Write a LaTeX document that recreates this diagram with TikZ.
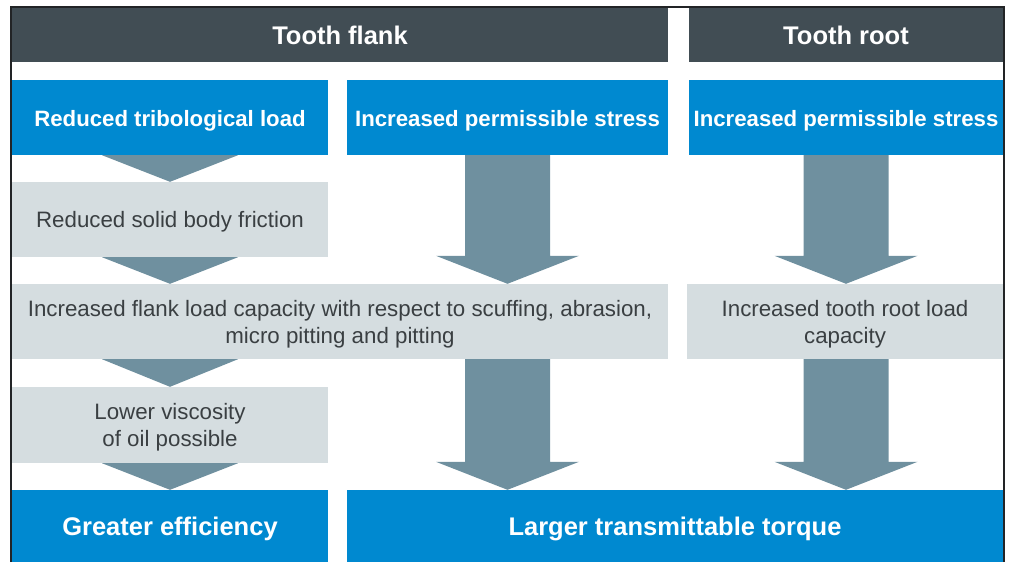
\documentclass[tikz,border=0pt]{standalone}
\usepackage{fontspec}
\setmainfont{Liberation Sans}
\usetikzlibrary{calc}
\definecolor{headgray}{HTML}{414D54}
\definecolor{boxblue}{HTML}{0089D0}
\definecolor{boxgray}{HTML}{D5DDE0}
\definecolor{arrowgray}{HTML}{6F909F}
\definecolor{textgray}{HTML}{3A3F42}
\definecolor{framegray}{HTML}{222426}
%% block arrow: column node, start node, end node
\newcommand{\bigarrow}[3]{
  \coordinate (top) at (#1.south |- #2.south);
  \coordinate (tip) at (#1.south |- #3.north);
  \fill[tri] ($(top)+(-42.5,0)$) -- ($(tip)+(-42.5,-28)$) -- ++(-29,0) -- (tip)
    -- ($(tip)+(71.5,-28)$) -- ++(-29,0) -- ($(top)+(42.5,0)$) -- cycle;
}
\begin{document}
\begin{tikzpicture}[x=1pt,y=-1pt]
      \tikzset{header/.style={fill=headgray, text=white, inner sep=0pt, minimum height=54pt, font=\bfseries\fontsize{25.5}{30}\selectfont},
        bluebox/.style={fill=boxblue, text=white, inner sep=0pt, minimum height=75pt, text height=17pt, text depth=0pt, font=\bfseries\fontsize{22.2}{27}\selectfont},
        bigblue/.style={bluebox, minimum height=72pt, text height=18pt, font=\bfseries\fontsize{25.5}{30}\selectfont},
        graybox/.style={fill=boxgray, text=textgray, inner sep=0pt, minimum height=75pt, text depth=-4pt, align=center, font=\fontsize{22.3}{27}\selectfont},
        tri/.style={fill=arrowgray}}
      \useasboundingbox (0,0) rectangle (1011,562);
%% Frame
      \draw[framegray, line width=2pt] (11,562) -- (11,7) -- (1004,7) -- (1004,562);
%% Headers
      \node[header, minimum width=656pt] (hflank) at (340,35) {Tooth flank};
      \node[header, minimum width=314pt] (hroot) at (846,35) {Tooth root};
%% Top row
      \node[bluebox, minimum width=316pt] (tribo) at (170,117.5) {Reduced tribological load};
      \node[bluebox, minimum width=321pt] (stressf) at (507.5,117.5) {Increased permissible stress};
      \node[bluebox, minimum width=314pt] (stressr) at (846,117.5) {Increased permissible stress};
%% Middle
      \node[graybox, minimum width=316pt] (friction) at (170,219.5) {Reduced solid body friction};
      \node[graybox, minimum width=656pt] (flankcap) at (340,321.5) {Increased flank load capacity with respect to scuffing, abrasion,\\ micro pitting and pitting};
      \node[graybox, minimum width=316pt] (rootcap) at (845,321.5) {Increased tooth root load\\ capacity};
      \node[graybox, minimum width=316pt, minimum height=76pt] (visc) at (170,425) {Lower viscosity\\ of oil possible};
%% Bottom row
      \node[bigblue, minimum width=316pt] (eff) at (170,526) {Greater efficiency};
      \node[bigblue, minimum width=656pt] (torque) at (675,526) {Larger transmittable torque};
%% Small arrows
      \fill[tri] ($(tribo.south)+(-68,0)$) -- ($(tribo.south)+(68,0)$) -- (friction.north) -- cycle;
      \fill[tri] ($(friction.south)+(-68,0)$) -- ($(friction.south)+(68,0)$) -- (friction.south |- flankcap.north) -- cycle;
      \fill[tri] ($(visc.north |- flankcap.south)+(-68,0)$) -- ($(visc.north |- flankcap.south)+(68,0)$) -- (visc.north) -- cycle;
      \fill[tri] ($(visc.south)+(-68,0)$) -- ($(visc.south)+(68,0)$) -- (eff.north) -- cycle;
%% Big arrows
      \bigarrow{stressf}{stressf}{flankcap}
      \bigarrow{stressf}{flankcap}{torque}
      \bigarrow{stressr}{stressr}{rootcap}
      \bigarrow{stressr}{rootcap}{torque}
\end{tikzpicture}
\end{document}
